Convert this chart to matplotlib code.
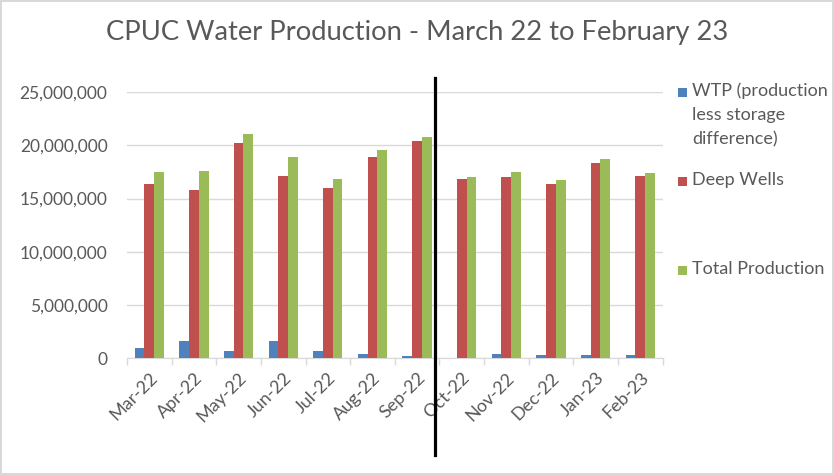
import numpy as np
import matplotlib.pyplot as plt
from matplotlib.patches import Rectangle
from matplotlib.ticker import FuncFormatter, FixedLocator

plt.rcParams['font.family'] = ['Lato', 'DejaVu Sans']

# monthly production (gallons)
months = ["Mar-22", "Apr-22", "May-22", "Jun-22", "Jul-22", "Aug-22",
          "Sep-22", "Oct-22", "Nov-22", "Dec-22", "Jan-23", "Feb-23"]
wtp = [950000, 1680000, 740000, 1680000, 740000, 460000,
       260000, 50000, 380000, 290000, 290000, 290000]
deep_wells = [16400000, 15850000, 20250000, 17150000, 15950000, 18900000,
              20450000, 16800000, 17000000, 16400000, 18350000, 17130000]
total_production = [17480000, 17580000, 21080000, 18900000, 16880000, 19550000,
                    20780000, 17000000, 17530000, 16700000, 18750000, 17400000]

series_names = ["WTP (production\nless storage\ndifference)", "Deep Wells", "Total Production"]
series_colors = ["#4F81BD", "#C0504D", "#9BBB59"]
divider_pos = 6.4  # line between Sep-22 and Oct-22

text_gray = "#595959"
grid_gray = "#D9D9D9"

W, H = 834, 475
fig = plt.figure(figsize=(W / 100, H / 100), dpi=100)
fig.patch.set_edgecolor(grid_gray)
fig.patch.set_linewidth(1.5)
ax = fig.add_axes([0.1523, 0.2453, 0.6421, 0.561])

x = np.arange(len(months))
w = 0.218
for i, vals in enumerate([wtp, deep_wells, total_production]):
    ax.bar(x + (i - 1) * w, vals, width=w, color=series_colors[i],
           label=series_names[i], zorder=3)

ax.set_xlim(-0.5, len(months) - 0.5)
ax.set_ylim(0, 25000000)
ax.set_yticks(np.arange(0, 25000001, 5000000))
ax.yaxis.set_major_formatter(FuncFormatter(lambda v, p: f"{int(v):,}"))
ax.grid(axis='y', color=grid_gray, linewidth=1, zorder=0)

ax.set_xticks(x)
ax.set_xticklabels(months, rotation=45, ha='right', rotation_mode='anchor')
ax.xaxis.set_minor_locator(FixedLocator(np.arange(-0.5, len(months), 1)))
ax.tick_params(axis='x', which='major', length=0, pad=8, labelsize=13, labelcolor=text_gray)
ax.tick_params(axis='x', which='minor', length=5, color=grid_gray, width=1)
ax.tick_params(axis='y', length=0, pad=14, labelsize=12.5, labelcolor=text_gray)

for s in ['top', 'right', 'left']:
    ax.spines[s].set_visible(False)
ax.spines['bottom'].set_color(grid_gray)

# black divider line running past the plot area
ax.plot([divider_pos, divider_pos], [1.0525, -0.362], color='black', linewidth=2.3,
        transform=ax.get_xaxis_transform(), clip_on=False, zorder=5)

fig.suptitle("CPUC Water Production - March 22 to February 23", x=0.5, y=0.957,
             fontsize=19.7, color=text_gray)

# legend on the right, entries spread out like the spreadsheet chart
legend_rows = [92, 181.5, 270.5]  # pixel centres from the top
for name, color, yc in zip(series_names, series_colors, legend_rows):
    fig.add_artist(Rectangle(((678) / W, 1 - (yc + 4.5) / H), 9 / W, 9 / H,
                             transform=fig.transFigure, facecolor=color, edgecolor='none'))
    fig.text(692 / W, 1 - (yc - 9.5) / H, name, ha='left', va='top', fontsize=13,
             color=text_gray, linespacing=1.62)

fig.savefig("out.png", dpi=100)
